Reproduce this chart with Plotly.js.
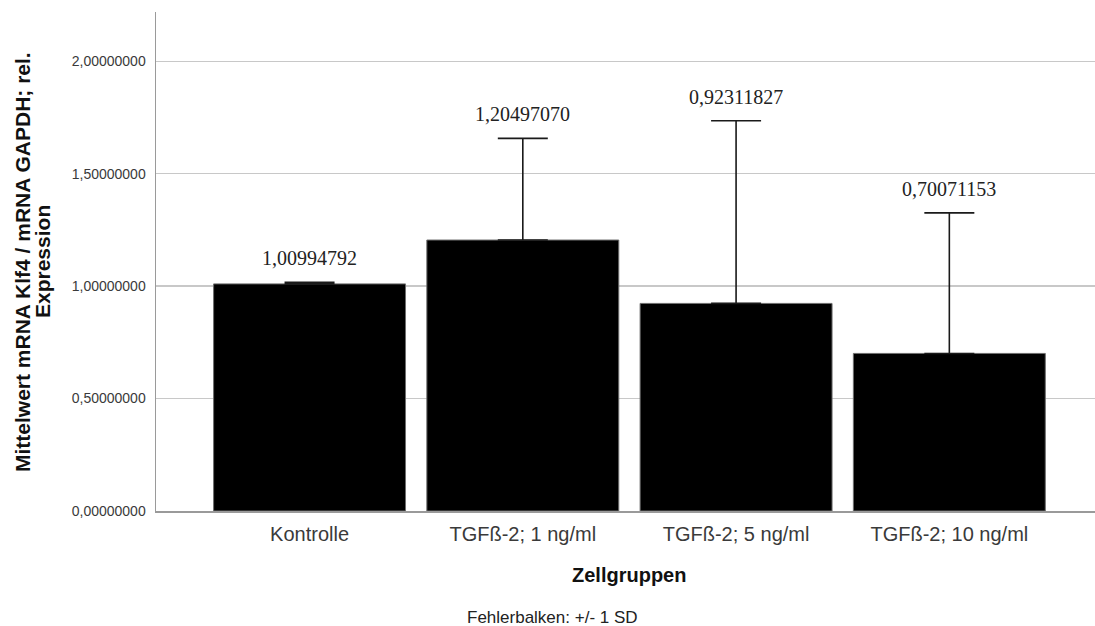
<!DOCTYPE html>
<html>
<head>
<meta charset="utf-8">
<script src="https://cdn.plot.ly/plotly-3.0.1.min.js"></script>
<style>html,body{margin:0;padding:0;background:#fff;}#chart{width:1095px;height:626px;}</style>
</head>
<body>
<div id="chart"></div>
<script>
const categories = ["Kontrolle", "TGFß-2; 1 ng/ml", "TGFß-2; 5 ng/ml", "TGFß-2; 10 ng/ml"];
const means = [1.00994792, 1.20497070, 0.92311827, 0.70071153];
const sd = [0.0075, 0.452, 0.812, 0.625];
const yTitleLine1 = "Mittelwert mRNA Klf4 / mRNA GAPDH; rel.";
const yTitleLine2 = "Expression";
const xTitle = "Zellgruppen";
const footnote = "Fehlerbalken: +/- 1 SD";

const fmt = v => v.toFixed(8).replace('.', ',');

const trace = {
  type: 'bar',
  x: categories,
  y: means,
  marker: {color: '#000000', line: {color: '#6e6e6e', width: 1}},
  error_y: {type: 'data', symmetric: false, array: sd, arrayminus: sd.map(() => 0),
            visible: true, color: '#1a1a1a', thickness: 1.6, width: 25},
  hoverinfo: 'none'
};

const valueLabels = categories.map((c, i) => ({
  x: c, y: means[i] + sd[i], xref: 'x', yref: 'y',
  text: fmt(means[i]), showarrow: false,
  xanchor: 'center', yanchor: 'bottom', yshift: 11,
  font: {family: 'Liberation Serif, Times New Roman, serif', size: 20, color: '#222'}
}));

const layout = {
  width: 1095, height: 626,
  margin: {l: 156, r: 0, t: 12, b: 115},
  paper_bgcolor: '#fff', plot_bgcolor: '#fff',
  separators: ',.',
  showlegend: false,
  bargap: 0.1,
  xaxis: {
    type: 'category',
    range: [-0.72, 3.683],
    showgrid: false, zeroline: false,
    showline: true, linecolor: '#9a9a9a', linewidth: 1.5,
    ticks: '', ticklabelstandoff: 4,
    tickfont: {family: 'Liberation Sans, Arial, sans-serif', size: 20, color: '#3a3a3a'}
  },
  yaxis: {
    range: [0, 2.219],
    tickvals: [0, 0.5, 1, 1.5, 2],
    tickformat: '.8f',
    showgrid: true, gridcolor: '#c8c8c8', gridwidth: 1.5,
    zeroline: false,
    showline: true, linecolor: '#9a9a9a', linewidth: 1.5,
    ticks: '', ticklabelstandoff: 6,
    tickfont: {family: 'Liberation Sans, Arial, sans-serif', size: 14, color: '#3a3a3a'}
  },
  annotations: valueLabels.concat([
    {xref: 'paper', yref: 'paper', x: 0, y: 0.499, xshift: -133, xanchor: 'center', yanchor: 'middle',
     textangle: -90, text: yTitleLine1, showarrow: false,
     font: {family: 'Liberation Sans, Arial, sans-serif', size: 21, color: '#111', weight: 'bold'}},
    {xref: 'paper', yref: 'paper', x: 0, y: 0.499, xshift: -113, xanchor: 'center', yanchor: 'middle',
     textangle: -90, text: yTitleLine2, showarrow: false,
     font: {family: 'Liberation Sans, Arial, sans-serif', size: 21, color: '#111', weight: 'bold'}},
    {xref: 'paper', yref: 'paper', x: 0.504, y: 0, yshift: -64, xanchor: 'center', yanchor: 'middle',
     text: xTitle, showarrow: false,
     font: {family: 'Liberation Sans, Arial, sans-serif', size: 20, color: '#111', weight: 'bold'}},
    {xref: 'paper', yref: 'paper', x: 0.4223, y: 0, yshift: -106, xanchor: 'center', yanchor: 'middle',
     text: footnote, showarrow: false,
     font: {family: 'Liberation Sans, Arial, sans-serif', size: 17, color: '#222'}}
  ])
};

Plotly.newPlot('chart', [trace], layout, {displayModeBar: false, staticPlot: true});
</script>
</body>
</html>
